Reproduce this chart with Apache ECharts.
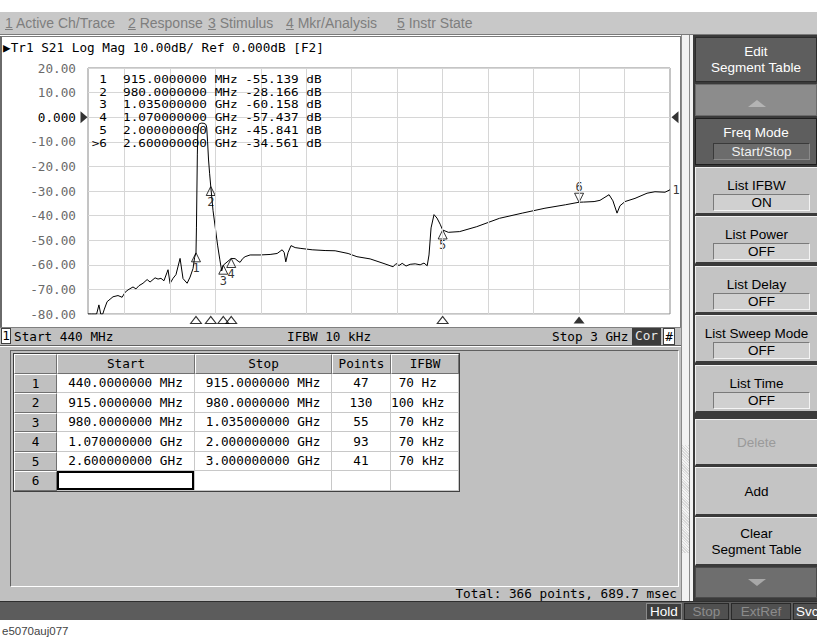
<!DOCTYPE html>
<html><head><meta charset="utf-8">
<script src="https://cdn.jsdelivr.net/npm/echarts@6/dist/echarts.min.js"></script>
<style>
*{box-sizing:border-box}
body{margin:0;width:817px;height:640px;position:relative;background:#fff;overflow:hidden;font-family:"Liberation Sans",Arial,sans-serif}
.a{position:absolute}
.mono{font-family:"DejaVu Sans Mono",monospace;font-size:12.7px}
#menu{left:0;top:12px;width:817px;height:23px;background:#c8c8c8;border-bottom:1px solid #7a7a7a}
.mi{position:absolute;top:3px;font-size:14px;color:#7e7e7e;white-space:nowrap}
#panel{left:0;top:36px;width:681px;height:310px;background:#fff;border:1px solid #7a7a7a;border-left:2px solid #6a6a6a}
#chart{left:0;top:36px;width:681px;height:292px}
#status{left:0;top:327px;width:681px;height:19px;background:#c0c0c0;border-top:1px solid #808080;border-bottom:1px solid #606060}
.st{position:absolute;top:1px;line-height:16px;white-space:pre}
#tpanel{left:0;top:347px;width:681px;height:255px;background:#c0c0c0}
#tframe{left:10px;top:350px;width:669px;height:237px;border:1px solid;border-color:#606060 #ffffff #ffffff #606060;background:#c0c0c0}
table{position:absolute;left:13px;top:353px;border-collapse:separate;border-spacing:0;border:1px solid #404040;background:#c0c0c0}
td,th{padding:0;height:19.5px;font-weight:normal;font-family:"DejaVu Sans Mono",monospace;font-size:12.7px;white-space:pre}
th{background:#c0c0c0;border-top:1px solid #fff;border-left:1px solid #fff;border-right:1px solid #707070;border-bottom:1px solid #707070;text-align:center}
td{background:#fff;border-right:1px solid #c8c8c8;border-bottom:1px solid #c8c8c8}
td.n{background:#c0c0c0;border-top:1px solid #fff;border-left:1px solid #fff;border-right:1px solid #707070;border-bottom:1px solid #707070;text-align:center}
td.c{text-align:center}
#total{right:140px;top:586px;line-height:16px}
#bottom{left:0;top:601px;width:817px;height:19px;background:#5c5c5c;border-top:1px solid #2e2e2e}
.bb{position:absolute;top:1px;height:17px;line-height:16px;font-size:13.5px;text-align:center;border:1px solid #2a2a2a;background:#505050}
#rcol{left:693px;top:35px;width:124px;height:566px;background:#3a3a3a}
#scroll{left:681px;top:35px;width:12px;height:566px;background:#f2f2f2;border-left:1px solid #8a8a8a}
.btn{position:absolute;left:695px;width:122px;text-align:center;font-size:13.5px;line-height:16px}
.dark{background:#5e5e5e;color:#fff;border:1px solid #2c2c2c}
.light{background:#c4c4c4;color:#000;border-top:1px solid #f0f0f0;border-left:1px solid #f0f0f0;border-bottom:2px solid #3a3a3a}
.box{position:absolute;left:17px;width:97px;height:17px;line-height:15px;border:1px solid;border-color:#7a7a7a #f4f4f4 #f4f4f4 #7a7a7a;background:#d0d0d0}
.tri-up{position:absolute;left:52px;width:0;height:0;border-left:9px solid transparent;border-right:9px solid transparent;border-bottom:7px solid #b4b4b4}
.tri-dn{position:absolute;left:52px;width:0;height:0;border-left:9px solid transparent;border-right:9px solid transparent;border-top:7px solid #a8a8a8}
</style></head>
<body>
<div id="menu" class="a">
  <span class="mi" style="left:5px"><u>1</u> Active Ch/Trace</span>
  <span class="mi" style="left:128px"><u>2</u> Response</span>
  <span class="mi" style="left:208px"><u>3</u> Stimulus</span>
  <span class="mi" style="left:286px"><u>4</u> Mkr/Analysis</span>
  <span class="mi" style="left:397px"><u>5</u> Instr State</span>
</div>
<div id="panel" class="a"></div>
<div id="chart" class="a"></div>
<div id="status" class="a mono">
  <span class="st" style="left:1px;top:0;width:10px;height:16px;background:#fff;border:1px solid #404040;text-align:center;line-height:14px">1</span>
  <span class="st" style="left:14px">Start 440 MHz</span>
  <span class="st" style="left:287px">IFBW 10 kHz</span>
  <span class="st" style="left:552px">Stop 3 GHz</span>
  <span class="st" style="left:632px;top:0;width:29px;height:17px;background:#3c3c3c;color:#e8e8e8;text-align:center">Cor</span>
  <span class="st" style="left:663px;top:0;width:12px;height:17px;background:#fff;border:1px solid #404040;text-align:center;line-height:15px">#</span>
</div>
<div id="tpanel" class="a"></div>
<div id="tframe" class="a"></div>
<table>
<tr><th style="width:43px"></th><th style="width:138px">Start</th><th style="width:137px">Stop</th><th style="width:59px">Points</th><th style="width:68px">IFBW</th></tr>
<tr><td class="n">1</td><td class="c">440.0000000 MHz</td><td class="c">915.0000000 MHz</td><td class="c">47</td><td> 70 Hz</td></tr>
<tr><td class="n">2</td><td class="c">915.0000000 MHz</td><td class="c">980.0000000 MHz</td><td class="c">130</td><td>100 kHz</td></tr>
<tr><td class="n">3</td><td class="c">980.0000000 MHz</td><td class="c">1.035000000 GHz</td><td class="c">55</td><td> 70 kHz</td></tr>
<tr><td class="n">4</td><td class="c">1.070000000 GHz</td><td class="c">2.000000000 GHz</td><td class="c">93</td><td> 70 kHz</td></tr>
<tr><td class="n">5</td><td class="c">2.600000000 GHz</td><td class="c">3.000000000 GHz</td><td class="c">41</td><td> 70 kHz</td></tr>
<tr><td class="n">6</td><td style="box-shadow:inset 0 0 0 2px #000"></td><td></td><td></td><td></td></tr>
</table>
<div id="total" class="a mono">Total: 366 points, 689.7 msec</div>
<div id="scroll" class="a"><div class="a" style="left:7px;top:0;width:1px;height:566px;background:#8a8a8a"></div><div class="a" style="left:0;top:410px;width:7px;height:108px;background:repeating-linear-gradient(45deg,#d8d8d8 0 1px,#f4f4f4 1px 2px)"></div></div>
<div id="rcol" class="a"></div>
<div class="btn dark" style="top:37px;height:45px;padding-top:6px">Edit<br>Segment Table</div>
<div class="btn" style="top:84px;height:32px;background:#8c8c8c;border:1px solid #6a6a6a"><div class="tri-up" style="top:15px"></div></div>
<div class="btn dark" style="top:118px;height:47px;padding-top:6px;border-color:#1e1e1e">Freq Mode<div class="box" style="top:24px;background:#6c6c6c;border-color:#3a3a3a #8a8a8a #8a8a8a #3a3a3a;color:#f0f0f0">Start/Stop</div></div>
<div class="btn light" style="top:167px;height:48px;padding-top:10px">List IFBW<div class="box" style="top:26px">ON</div></div>
<div class="btn light" style="top:216px;height:48px;padding-top:10px">List Power<div class="box" style="top:26px">OFF</div></div>
<div class="btn light" style="top:266px;height:48px;padding-top:10px">List Delay<div class="box" style="top:26px">OFF</div></div>
<div class="btn light" style="top:315px;height:48px;padding-top:10px">List Sweep Mode<div class="box" style="top:26px">OFF</div></div>
<div class="btn light" style="top:365px;height:48px;padding-top:10px">List Time<div class="box" style="top:26px">OFF</div></div>
<div class="btn light" style="top:419px;height:47px;padding-top:15px;color:#9a9a9a">Delete</div>
<div class="btn light" style="top:467px;height:49px;padding-top:16px">Add</div>
<div class="btn light" style="top:517px;height:49px;padding-top:8px">Clear<br>Segment Table</div>
<div class="btn" style="top:567px;height:31px;background:#6e6e6e;border:1px solid #4a4a4a"><div class="tri-dn" style="top:11px"></div></div>
<div id="bottom" class="a">
  <div class="bb" style="left:646px;width:36px;color:#fff;background:#3e3e3e;border-color:#8a8a8a">Hold</div>
  <div class="bb" style="left:684px;width:45px;color:#8c8c8c">Stop</div>
  <div class="bb" style="left:731px;width:60px;color:#8c8c8c">ExtRef</div>
  <div class="bb" style="left:793px;width:30px;color:#fff;text-align:left;padding-left:2px">Svc</div>
</div>
<div class="a" style="left:2px;top:625px;font-size:11.5px;color:#444">e5070auj077</div>
<script>
// ---- data ----
const freqMHz = [440,455,470,478,488,496,505,512,524,537,550,572,590,603,616,638,651,664,682,700,713,735,748,761,774,788,792,801,814,827,845,858,876,889,902,909,915,
  917,919,921,923,926,930,940,950,958,962,966,970,975,980,
  985,990,1000,1010,1020,1028,1035,
  1070,1087,1100,1109,1120,1131,1153,1197,1241,1272,1294,1303,1310,1320,1333,1351,1373,1426,1483,1527,1584,1623,1681,1742,1782,1795,1808,1822,1839,1857,1879,1901,1918,1932,1940,1949,1962,1975,1989,2000,
  2025,2075,2150,2250,2350,2450,2540,2600,
  2620,2666,2692,2732,2749,2767,2780,2802,2846,2899,2934,2978,3000];
const traceDb = [-80,-80,-80,-80,-76.3,-80,-80,-78,-75,-74,-73,-72.5,-73.2,-71.2,-70.2,-69,-69.8,-68.5,-67.5,-66,-67,-65.3,-65.8,-65.5,-66.5,-63,-62,-67.6,-65.5,-64,-57.4,-65.6,-67.5,-65,-61.5,-57,-55.139,
  -45,-30,-15,-6,-3.2,-2.6,-2.4,-2.5,-2.9,-4,-10,-17,-23,-28.166,
  -33,-38,-45,-52,-58,-62.5,-60.158,
  -57.437,-57.5,-58.5,-59,-57.5,-56.7,-56,-56,-55.8,-55.4,-53.9,-55,-58.8,-55,-52.2,-53,-53.3,-53.9,-54.2,-54.3,-55.4,-56.7,-57.6,-59.5,-60.8,-59.5,-60.3,-59.4,-60.5,-59.8,-59.6,-60,-59.3,-60.4,-56,-45,-39.6,-41,-43.5,-45.841,
  -46.8,-46.5,-44.5,-41.1,-39,-37,-35.6,-34.561,
  -34.5,-34.3,-33.8,-31.5,-34,-39,-36,-34.3,-33,-30.9,-30.3,-30.5,-29.5];
const markerNames = ['1','2','3','4','5','>6'];
const markerFreqMHz = [915,980,1035,1070,2000,2600];
const markerFreqText = ['915.0000000 MHz','980.0000000 MHz','1.035000000 GHz','1.070000000 GHz','2.000000000 GHz','2.600000000 GHz'];
const markerDb = [-55.139,-28.166,-60.158,-57.437,-45.841,-34.561];
const freqGridMHz = [600,800,1000,1200,1400,1600,1800,2000,2200,2400,2600,2800];
const headerText = '\u25B6Tr1 S21 Log Mag 10.00dB/ Ref 0.000dB [F2]';

const mono = '"DejaVu Sans Mono", monospace';
const chart = echarts.init(document.getElementById('chart'), null, {renderer:'svg'});
const hollow = {color:'rgba(255,255,255,0)', borderColor:'#000', borderWidth:1};
const active = markerNames.length - 1;
const readout = [];
const rFont = '12.2px ' + mono;
markerNames.forEach((n,i)=>{
  const y = 43 + i*12.9;
  readout.push({type:'text', x:107, y:y, scaleX:1.04, scaleY:0.88, z:100, style:{text:n, font:rFont, fill:'#000', align:'right', verticalAlign:'middle'}});
  readout.push({type:'text', x:123, y:y, scaleX:1.04, scaleY:0.88, z:100, style:{text:markerFreqText[i]+' '+markerDb[i].toFixed(3)+' dB', font:rFont, fill:'#000', align:'left', verticalAlign:'middle'}});
});
chart.setOption({
  animation:false,
  title:{text:headerText, left:3, top:5, padding:0, textStyle:{fontFamily:mono, fontSize:12.7, fontWeight:'normal', color:'#000'}},
  grid:{left:88, right:11, top:32, bottom:14, show:true, borderColor:'#8a8a8a', borderWidth:1, backgroundColor:'#fff'},
  xAxis:{type:'value', min:440, max:3000, axisLine:{show:false}, axisTick:{show:false}, axisLabel:{show:false}, splitLine:{show:false}},
  yAxis:{type:'value', min:-80, max:20, interval:10, axisLine:{show:false}, axisTick:{show:false},
    splitLine:{lineStyle:{color:'#d6d6d6', width:1}},
    axisLabel:{margin:12, fontFamily:mono, fontSize:12.7, color:'#6a6a6a',
      formatter:v=> v===0 ? '{z|0.000}' : v.toFixed(2), rich:{z:{color:'#000', fontFamily:mono, fontSize:12.7}}}},
  graphic: readout,
  series:[
    {type:'line', data:[], z:1, silent:true,
     markLine:{silent:true, symbol:['none','none'], animation:false, label:{show:false}, lineStyle:{color:'#d6d6d6', width:1, type:'solid'},
       data:freqGridMHz.map(v=>({xAxis:v}))}},
    {type:'line', data:freqMHz.map((f,i)=>[f,traceDb[i]]), symbol:'none', showSymbol:false, lineStyle:{color:'#000', width:1}, z:3, silent:true},
    {type:'scatter', z:4, silent:true, clip:false,
     data:markerFreqMHz.map((f,i)=>({value:[f,markerDb[i]], name:markerNames[i].replace('>',''),
        symbolRotate: i===active?180:0, symbolOffset: i===active?[0,'-50%']:[0,'50%'],
        label:{position: i===active?'top':'bottom'}})),
     symbol:'triangle', symbolSize:[9,9], itemStyle:hollow,
     label:{show:true, formatter:p=>p.name, distance:0, fontFamily:mono, fontSize:12, color:'#000'}},
    {type:'scatter', z:4, silent:true, clip:false,
     data:markerFreqMHz.map((f,i)=>({value:[f,-80], itemStyle: i===active?{color:'#000'}:hollow})),
     symbol:'triangle', symbolSize:[11,7], symbolOffset:[0,6]},
    {type:'scatter', z:4, silent:true, clip:false,
     data:[{value:[440,0], symbolRotate:-90, symbolOffset:[-4,0]},{value:[3000,0], symbolRotate:90, symbolOffset:[5,0]}],
     symbol:'triangle', symbolSize:[12,7], itemStyle:{color:'#000'}},
    {type:'scatter', z:4, silent:true, clip:false,
     data:[{value:[freqMHz[freqMHz.length-1], traceDb[traceDb.length-1]]}],
     symbolSize:1, itemStyle:{color:'rgba(0,0,0,0)'},
     label:{show:true, position:'right', distance:2, formatter:'1', fontFamily:mono, fontSize:12, color:'#000'}}
  ]
});
</script>
</body></html>
